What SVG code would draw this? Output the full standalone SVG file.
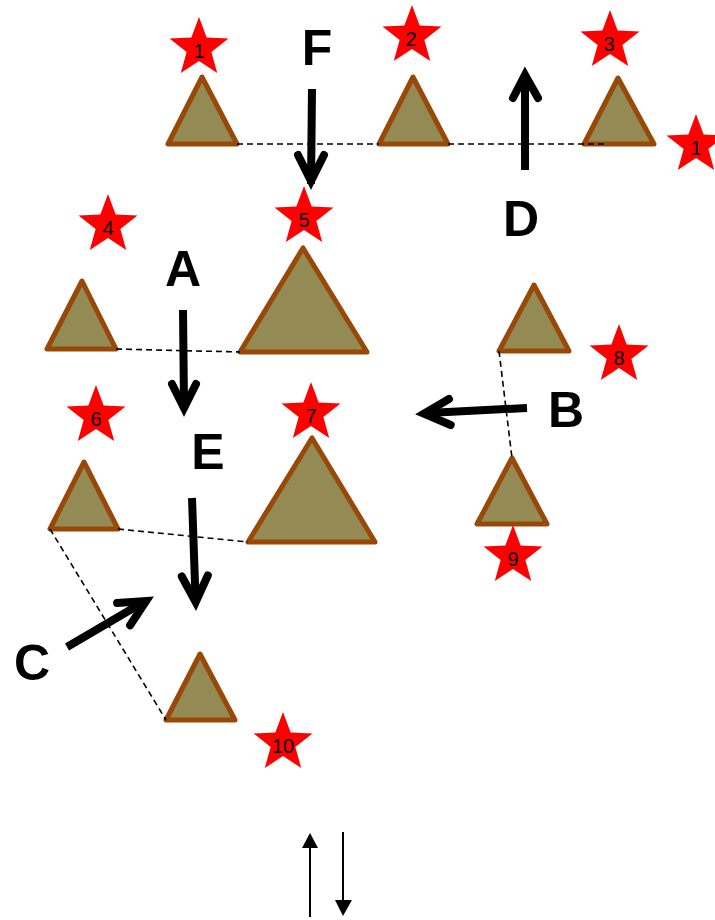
<svg xmlns="http://www.w3.org/2000/svg" width="715" height="920" viewBox="0 0 715 920">
<style>
.tri{fill:#948A54;stroke:#984807;stroke-width:5;stroke-linejoin:round}
.star{fill:#FF0000}
.num{font-family:"Liberation Sans",Arial,sans-serif;font-size:20px;fill:#000;text-anchor:middle}
.big{font-family:"Liberation Sans",Arial,sans-serif;font-size:50px;font-weight:bold;fill:#000;text-anchor:middle}
.dash{stroke:#000;stroke-width:1.6;stroke-dasharray:6 4;fill:none}
.shaft{stroke:#000;stroke-width:8;fill:none;stroke-linecap:butt}
.head{stroke:#000;stroke-width:8;fill:none;stroke-linecap:round;stroke-linejoin:miter;stroke-miterlimit:10}
.thin{stroke:#000;stroke-width:2;fill:none}
</style>
<defs>
<path id="star" d="M0,-31 L7.64,-10.52 L29.48,-9.58 L12.36,4.02 L18.22,25.08 L0,13 L-18.22,25.08 L-12.36,4.02 L-29.48,-9.58 L-7.64,-10.52 Z"/>
</defs>
<g id="n1"><polygon class="tri" points="202,77 168,144 237,144"/><use href="#star" class="star" x="199" y="48"/><text class="num" x="199" y="58">1</text></g>
<g id="n2"><polygon class="tri" points="413,77 379,144 448,144"/><use href="#star" class="star" x="412" y="36"/><text class="num" x="411" y="46">2</text></g>
<g id="n3"><polygon class="tri" points="618,78 584,144 654,144"/><use href="#star" class="star" x="610" y="41"/><text class="num" x="609" y="51">3</text></g>
<g id="n1b"><use href="#star" class="star" x="696" y="145"/><text class="num" x="696" y="155">1</text></g>
<g id="n4"><polygon class="tri" points="82,281 47,349 116,349"/><use href="#star" class="star" x="108" y="225"/><text class="num" x="108" y="235">4</text></g>
<g id="n5"><polygon class="tri" points="303,248 240,352 367,352"/><use href="#star" class="star" x="304" y="217"/><text class="num" x="304" y="227">5</text></g>
<g id="n8"><polygon class="tri" points="534,285 499,351 569,351"/><use href="#star" class="star" x="619" y="355"/><text class="num" x="619" y="365">8</text></g>
<g id="n9"><polygon class="tri" points="512,458 477,524 547,524"/><use href="#star" class="star" x="513" y="556"/><text class="num" x="513" y="566">9</text></g>
<g id="n6"><polygon class="tri" points="84,462 50,529 118,529"/><use href="#star" class="star" x="96" y="416"/><text class="num" x="96" y="426">6</text></g>
<g id="n7"><polygon class="tri" points="312,438 248,542 375,542"/><use href="#star" class="star" x="311" y="413"/><text class="num" x="311" y="423">7</text></g>
<g id="n10"><polygon class="tri" points="200,654 166,720 235,720"/><use href="#star" class="star" x="283" y="743"/><text class="num" x="283" y="753">10</text></g>
<g id="connectors">
<line class="dash" x1="237" y1="144" x2="379" y2="144"/>
<line class="dash" x1="448" y1="144" x2="606" y2="144"/>
<line class="dash" x1="116" y1="349" x2="240" y2="352"/>
<line class="dash" x1="499" y1="351" x2="512" y2="458"/>
<line class="dash" x1="118" y1="529" x2="248" y2="542"/>
<line class="dash" x1="50" y1="529" x2="166" y2="720"/>
</g>
<g id="arrowF"><line class="shaft" x1="312" y1="89" x2="311" y2="184"/><polyline class="head" points="298,155 311,181 324,155"/><text class="big" x="317" y="65">F</text></g>
<g id="arrowD"><line class="shaft" x1="525" y1="170" x2="525" y2="79"/><polyline class="head" points="513,98 525,75 538,98"/><text class="big" x="521" y="236">D</text></g>
<g id="arrowA"><line class="shaft" x1="183" y1="310" x2="184" y2="405"/><polyline class="head" points="172,384 184,408 196,384"/><text class="big" x="183" y="286">A</text></g>
<g id="arrowB"><line class="shaft" x1="527" y1="408" x2="428" y2="413"/><polyline class="head" points="449,399 424,413.6 450.7,425"/><text class="big" x="566" y="427">B</text></g>
<g id="arrowE"><line class="shaft" x1="192" y1="498" x2="195.5" y2="598"/><polyline class="head" points="181.8,576.5 195.7,602 207.8,575.5"/><text class="big" x="208" y="469">E</text></g>
<g id="arrowC"><line class="shaft" x1="67" y1="647" x2="142" y2="603"/><polyline class="head" points="117.1,602.9 146.1,601 130.1,625.3"/><text class="big" x="32" y="680">C</text></g>
<g id="legend">
<line class="thin" x1="310" y1="917" x2="310" y2="848"/><polygon points="302,848 318,848 310,833" fill="#000"/>
<line class="thin" x1="343" y1="832" x2="343" y2="900"/><polygon points="335,900 352,900 343,916" fill="#000"/>
</g>
</svg>
